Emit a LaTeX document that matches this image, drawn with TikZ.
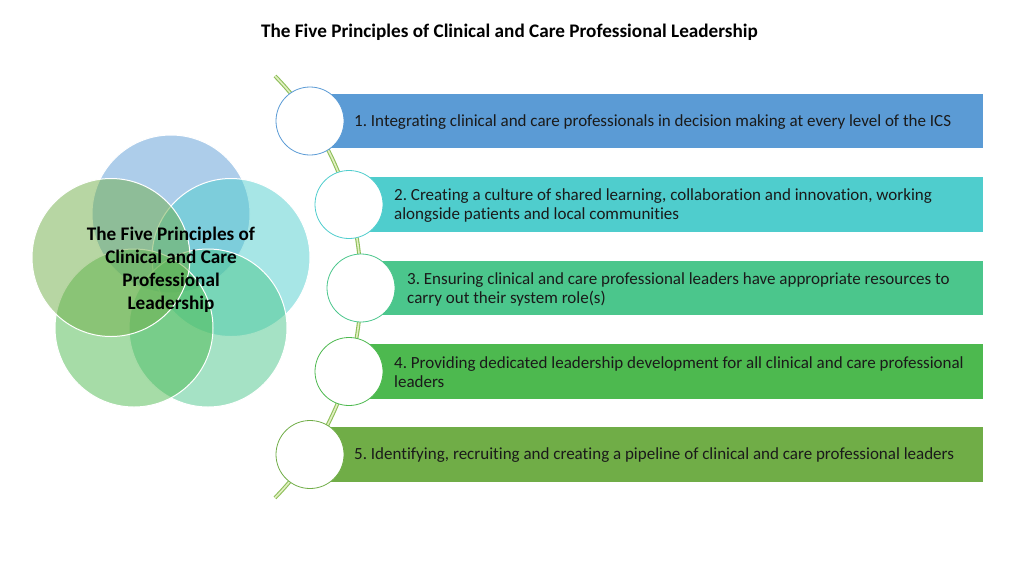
\documentclass[tikz,border=0pt]{standalone}
\usepackage{fontspec}
\setmainfont{Carlito}[Ligatures=NoCommon]
\frenchspacing
\definecolor{c1}{HTML}{5B9BD5}
\definecolor{c2}{HTML}{4FCDCD}
\definecolor{c3}{HTML}{4BC68C}
\definecolor{c4}{HTML}{4DB94F}
\definecolor{c5}{HTML}{70AD47}
\definecolor{lineout}{HTML}{8DBF5A}
\definecolor{linein}{HTML}{E2EFC2}
\definecolor{txt}{HTML}{1A1A1A}
\begin{document}
\begin{tikzpicture}[x=1pt,y=-1pt,
  venn/.style={circle, minimum size=158pt, inner sep=0pt, draw=white, line width=1pt, fill opacity=0.5, draw opacity=1},
  pcirc/.style={circle, minimum size=68pt, inner sep=0pt, fill=white, line width=0.8pt},
  bar/.style={rectangle, minimum height=54.5pt, inner sep=0pt, anchor=west},
  btext/.style={anchor=west, align=left, inner sep=0pt, text=txt, font=\fontsize{17}{19}\selectfont},
  conn/.style={draw=lineout, double=linein, line width=1.1pt, double distance=1.6pt}]
\useasboundingbox (0,0) rectangle (1024,576);
% title
\node[font=\bfseries\fontsize{19.2}{23}\selectfont, text=black] (title) at (509.5,32) {The Five Principles of Clinical and Care Professional Leadership};
% venn
\node[venn, fill=c1] (v1) at (171,214) {};
\node[venn, fill=c2] (v2) at (231,257.5) {};
\node[venn, fill=c3] (v3) at (208,328) {};
\node[venn, fill=c4] (v4) at (134,328) {};
\node[venn, fill=c5] (v5) at (111,257.5) {};
\node[align=center, text=black, font=\bfseries\fontsize{19.2}{23}\selectfont] (vtext) at (171,270) {The Five Principles of\\Clinical and Care\\Professional\\Leadership};
% arc connector
\coordinate (arcTop) at (275,76);
\draw[conn] (arcTop) arc[start angle=44.3, end angle=-44.3, radius=302pt];
% bars
\node[bar, fill=c1, minimum width=673pt] (b1) at (310,121) {};
\node[bar, fill=c2, minimum width=634pt] (b2) at (349,204.5) {};
\node[bar, fill=c3, minimum width=622pt] (b3) at (361,288) {};
\node[bar, fill=c4, minimum width=634pt] (b4) at (349,371.5) {};
\node[bar, fill=c5, minimum width=673pt] (b5) at (310,454.5) {};
% circles
\node[pcirc, draw=c1] (p1) at (310,121) {};
\node[pcirc, draw=c2] (p2) at (349,204.5) {};
\node[pcirc, draw=c3] (p3) at (361,288) {};
\node[pcirc, draw=c4] (p4) at (349,371.5) {};
\node[pcirc, draw=c5] (p5) at (310,454.5) {};
% texts
\node[btext] (t1) at (354,122.5) {1. Integrating clinical and care professionals in decision making at every level of the ICS};
\node[btext] (t2) at (394,205.5) {2. Creating a culture of shared learning, collaboration and innovation, working\\alongside patients and local communities};
\node[btext] (t3) at (407,289) {3. Ensuring clinical and care professional leaders have appropriate resources to\\carry out their system role(s)};
\node[btext] (t4) at (394,372.5) {4. Providing dedicated leadership development for all clinical and care professional\\leaders};
\node[btext] (t5) at (354,455.5) {5. Identifying, recruiting and creating a pipeline of clinical and care professional leaders};
\end{tikzpicture}
\end{document}
